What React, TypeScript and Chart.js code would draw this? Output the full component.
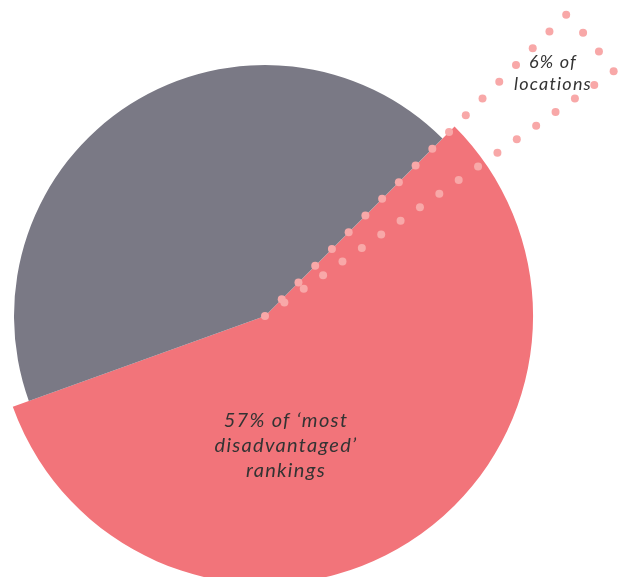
import React, { useEffect, useRef } from "react";
import { Chart, registerables } from "chart.js";

Chart.register(...registerables);

// ---- data ----
const categories = ["\u2018Most disadvantaged\u2019 rankings", "Other rankings"];
const shares = [57, 43];
// angular span of the dotted "locations" wedge, as drawn (% of full circle)
const wedgeShare = [2.76];
const mainLabelLines = ["57% of \u2018most", "disadvantaged\u2019", "rankings"];
const wedgeLabelLines = ["6% of", "locations"];

// ---- styles ----
const sliceColors = ["#F2747A", "#7A7985"];
const sliceRadiusScale = [1.068, 1.0];
const wedgeRadiusScale = 1.697;
const dotColor = "#F8A8A8";
const dotRadius = 4;
const dotSpacing = 24;
const pinkStartDeg = 45;

const sliceSizePlugin = {
  id: "sliceSizes",
  afterDatasetsUpdate(chart: any) {
    const meta = chart.getDatasetMeta(0);
    const base = meta.controller.outerRadius;
    meta.data.forEach((el: any, i: number) => {
      el.outerRadius = base * sliceRadiusScale[i];
    });
  },
  afterDatasetsDraw(chart: any) {
    const meta = chart.getDatasetMeta(0);
    const base = meta.controller.outerRadius;
    const el: any = meta.data[0];
    const ctx: CanvasRenderingContext2D = chart.ctx;
    const cx = el.x;
    const cy = el.y;
    const a0 = el.startAngle;
    const a1 = a0 + (2 * Math.PI * wedgeShare[0]) / 100;
    const R = base * wedgeRadiusScale;
    ctx.save();
    ctx.fillStyle = dotColor;
    const dot = (x: number, y: number) => {
      ctx.beginPath();
      ctx.arc(x, y, dotRadius, 0, Math.PI * 2);
      ctx.fill();
    };
    const n = Math.round(R / dotSpacing);
    for (let i = 0; i <= n; i++) {
      const r = (R * i) / n;
      dot(cx + Math.cos(a0) * r, cy + Math.sin(a0) * r);
    }
    for (let i = 1; i <= n; i++) {
      const r = (R * i) / n;
      dot(cx + Math.cos(a1) * r, cy + Math.sin(a1) * r);
    }
    const m = Math.max(1, Math.round((R * (a1 - a0)) / dotSpacing));
    for (let j = 1; j < m; j++) {
      const a = a0 + ((a1 - a0) * j) / m;
      dot(cx + Math.cos(a) * R, cy + Math.sin(a) * R);
    }
    ctx.restore();
  },
};

const labelFont = "Lato, 'Open Sans', sans-serif";

export default function App() {
  const canvasRef = useRef<HTMLCanvasElement | null>(null);

  useEffect(() => {
    if (!canvasRef.current) return;
    const chart = new Chart(canvasRef.current, {
      type: "pie",
      data: {
        labels: categories,
        datasets: [
          {
            data: shares,
            backgroundColor: sliceColors,
            borderWidth: 0,
            clip: false,
          } as any,
        ],
      },
      options: {
        responsive: false,
        animation: false,
        events: [],
        rotation: pinkStartDeg,
        layout: { padding: { left: 14, top: 65, right: 108, bottom: 10 } },
        plugins: {
          legend: { display: false },
          tooltip: { enabled: false },
        },
      } as any,
      plugins: [sliceSizePlugin],
    });
    return () => chart.destroy();
  }, []);

  return (
    <div style={{ position: "absolute", left: 0, top: 0, width: 624, height: 577, overflow: "hidden", background: "#fff" }}>
      <canvas ref={canvasRef} width={624} height={577} style={{ position: "absolute", left: 0, top: 0 }} />
      <div
        style={{
          position: "absolute",
          left: 146,
          width: 280,
          top: 407,
          textAlign: "center",
          fontFamily: labelFont,
          fontStyle: "italic",
          fontWeight: 400,
          fontSize: 20,
          lineHeight: "25px",
          letterSpacing: 1.3,
          color: "#333333",
        }}
      >
        {mainLabelLines.map((l, i) => (
          <div key={i}>{l}</div>
        ))}
      </div>
      <div
        style={{
          position: "absolute",
          left: 483,
          width: 140,
          top: 50,
          textAlign: "center",
          fontFamily: labelFont,
          fontStyle: "italic",
          fontWeight: 400,
          fontSize: 18,
          lineHeight: "22px",
          letterSpacing: 1.2,
          color: "#333333",
        }}
      >
        {wedgeLabelLines.map((l, i) => (
          <div key={i}>{l}</div>
        ))}
      </div>
    </div>
  );
}
